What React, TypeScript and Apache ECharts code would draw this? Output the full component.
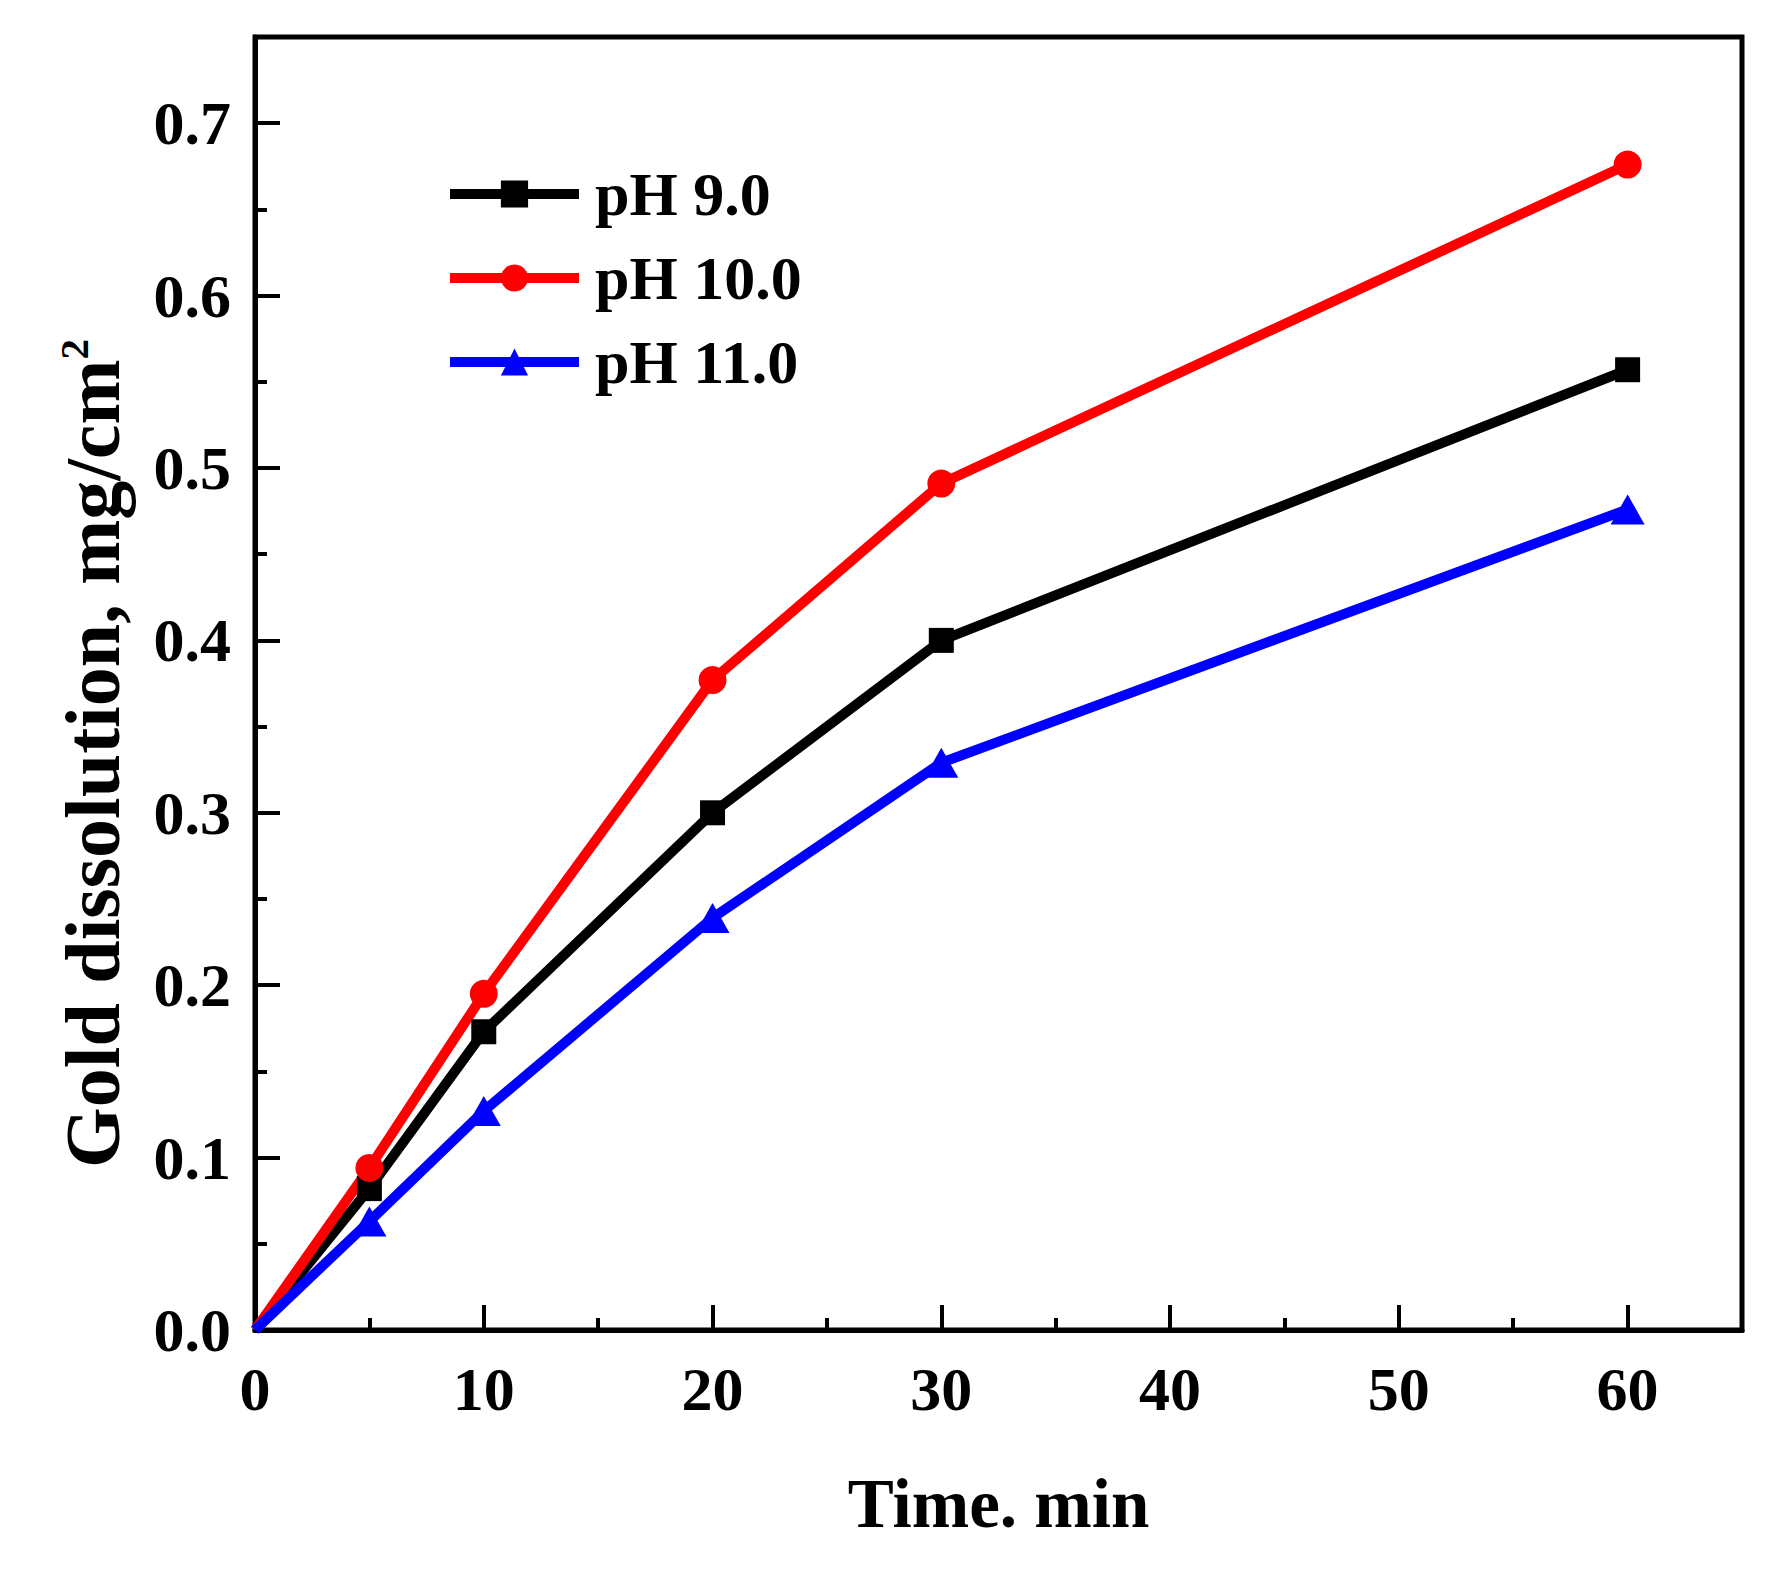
import React, { useEffect, useRef } from 'react';
import * as echarts from 'echarts';

// time points (min) shared by all three curves
const times = [0, 5, 10, 20, 30, 60];

// gold dissolution, mg/cm2
const ph9 = [0, 0.082, 0.173, 0.300, 0.400, 0.557];
const ph10 = [0, 0.094, 0.195, 0.377, 0.491, 0.676];
const ph11 = [0, 0.063, 0.127, 0.239, 0.329, 0.476];

const seriesNames = ['pH 9.0', 'pH 10.0', 'pH 11.0'];

const FONT = '"Liberation Serif", "Times New Roman", serif';

// origin point is clipped by the axes in the original, so hide its marker there
const toData = (vals: number[]) =>
  times.map((t, i) => (t === 0 ? { value: [t, vals[i]], symbol: 'none' } : [t, vals[i]]));

const App: React.FC = () => {
  const chartRef = useRef<HTMLDivElement>(null);

  useEffect(() => {
    if (!chartRef.current) return;
    const chart = echarts.init(chartRef.current, undefined, { renderer: 'svg' });

    const axisLine = { show: true, onZero: false, lineStyle: { color: '#000', width: 5 } };
    const labelStyle = { color: '#000', fontFamily: FONT, fontWeight: 'bold' as const, fontSize: 62 };

    const option = {
      animation: false,
      backgroundColor: '#fff',
      grid: {
        left: 247,
        top: 29,
        right: 41,
        bottom: 233,
        show: true,
        borderColor: '#000',
        borderWidth: 5,
      },
      legend: {
        orient: 'vertical',
        left: 432,
        top: 150,
        itemWidth: 129,
        itemHeight: 34,
        itemGap: 22,
        data: seriesNames,
        lineStyle: { width: 10 },
        textStyle: { ...labelStyle, padding: [0, 0, 0, 11] },
      },
      xAxis: [
        {
          type: 'value',
          min: 0,
          max: 65,
          interval: 10,
          name: 'Time. min',
          nameLocation: 'middle',
          nameGap: 139,
          nameTextStyle: { color: '#000', fontFamily: FONT, fontWeight: 'bold', fontSize: 69 },
          axisLine,
          axisTick: { show: true, inside: true, length: 25, lineStyle: { color: '#000', width: 4 } },
          axisLabel: {
            ...labelStyle,
            margin: 28,
            formatter: (v: number) => (v % 10 === 0 ? String(v) : ''),
          },
          splitLine: { show: false },
        },
        {
          // minor ticks every 5 min
          type: 'value',
          position: 'bottom',
          min: 0,
          max: 65,
          interval: 5,
          axisLine: { show: false },
          axisTick: { show: true, inside: true, length: 12, lineStyle: { color: '#000', width: 4 } },
          axisLabel: { show: false },
          splitLine: { show: false },
        },
      ],
      yAxis: [
        {
          type: 'value',
          min: 0,
          max: 0.75,
          interval: 0.1,
          name: '{a|Gold dissolution, mg/cm}{s|2}',
          nameLocation: 'middle',
          nameGap: 124,
          nameTextStyle: {
            color: '#000',
            fontFamily: FONT,
            fontWeight: 'bold',
            padding: [0, 140, 0, 0],
            rich: {
              a: { fontFamily: FONT, fontWeight: 'bold', fontSize: 78, color: '#000' },
              s: { fontFamily: FONT, fontWeight: 'bold', fontSize: 41, color: '#000', verticalAlign: 'top' },
            },
          },
          axisLine,
          axisTick: { show: true, inside: true, length: 25, lineStyle: { color: '#000', width: 4 } },
          axisLabel: {
            ...labelStyle,
            margin: 24,
            formatter: (v: number) => (Math.round(v * 100) % 10 === 0 ? v.toFixed(1) : ''),
          },
          splitLine: { show: false },
        },
        {
          // minor ticks every 0.05
          type: 'value',
          position: 'left',
          min: 0,
          max: 0.75,
          interval: 0.05,
          axisLine: { show: false },
          axisTick: { show: true, inside: true, length: 12, lineStyle: { color: '#000', width: 4 } },
          axisLabel: { show: false },
          splitLine: { show: false },
        },
      ],
      series: [
        {
          name: seriesNames[0],
          type: 'line',
          data: toData(ph9),
          symbol: 'rect',
          symbolSize: 25,
          color: '#000000',
          lineStyle: { width: 10, color: '#000000' },
          itemStyle: { color: '#000000' },
        },
        {
          name: seriesNames[1],
          type: 'line',
          data: toData(ph10),
          symbol: 'circle',
          symbolSize: 28,
          color: '#ff0000',
          lineStyle: { width: 10, color: '#ff0000' },
          itemStyle: { color: '#ff0000' },
        },
        {
          name: seriesNames[2],
          type: 'line',
          data: toData(ph11),
          symbol: 'triangle',
          symbolSize: [34, 30],
          color: '#0000ff',
          lineStyle: { width: 10, color: '#0000ff' },
          itemStyle: { color: '#0000ff' },
        },
      ],
    };

    chart.setOption(option as any);
    return () => {
      chart.dispose();
    };
  }, []);

  return <div ref={chartRef} style={{ width: 1775, height: 1555 }} />;
};

export default App;
